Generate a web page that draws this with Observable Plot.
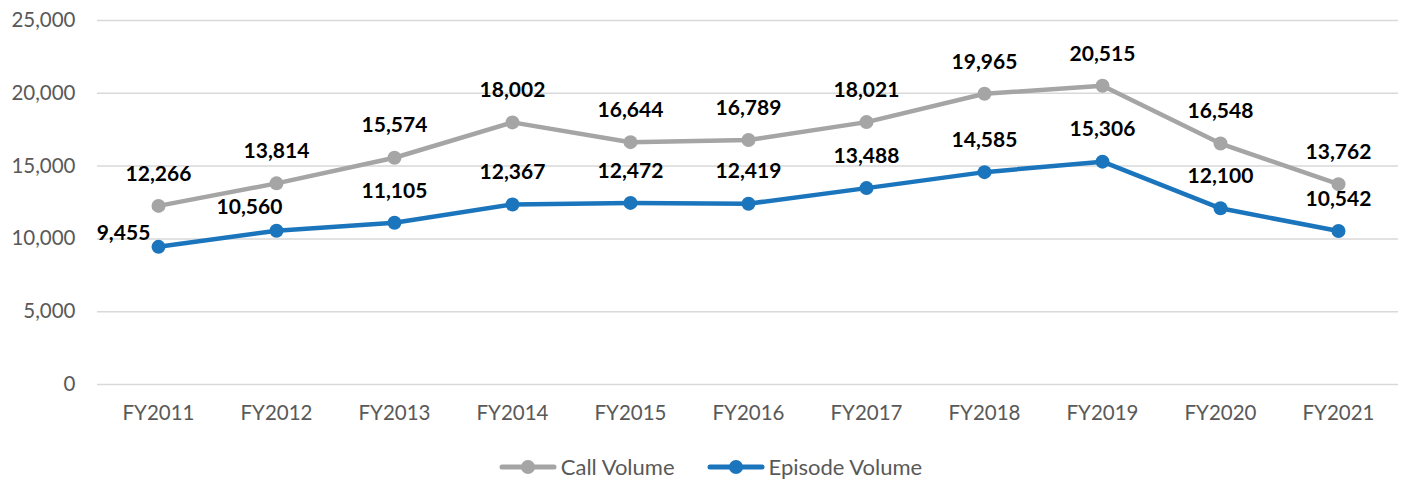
<!DOCTYPE html>
<html><head><meta charset="utf-8">
<script src="https://cdn.jsdelivr.net/npm/d3@7"></script>
<script src="https://cdn.jsdelivr.net/npm/@observablehq/plot@0.6"></script>
<style>
body{margin:0;background:#fff;font-family:Lato,"Open Sans",sans-serif;}
#legend{display:flex;justify-content:center;gap:32px;margin-top:13px;font-size:22px;color:#595959;padding-left:20px;}
.item{display:flex;align-items:center;gap:4px;}
</style></head>
<body><div id="chart"></div><div id="legend"></div>
<script>
const years = ["FY2011","FY2012","FY2013","FY2014","FY2015","FY2016","FY2017","FY2018","FY2019","FY2020","FY2021"];
const callVolume = [12266,13814,15574,18002,16644,16789,18021,19965,20515,16548,13762];
const episodeVolume = [9455,10560,11105,12367,12472,12419,13488,14585,15306,12100,10542];
const yTicks = [0,5000,10000,15000,20000,25000];
const seriesNames = ["Call Volume","Episode Volume"];
const colors = ["#A5A5A5","#1B75BC"];

const data = [];
years.forEach((y,i)=>{
  data.push({year:y, value:callVolume[i], series:seriesNames[0], i});
  data.push({year:y, value:episodeVolume[i], series:seriesNames[1], i});
});
const call = data.filter(d=>d.series===seriesNames[0]);
const ep = data.filter(d=>d.series===seriesNames[1]);
const fmt = d3.format(",");
const lbl = {fontWeight:"bold", fontSize:21, fill:"#000"};

const chart = Plot.plot({
  width:1401, height:440,
  marginLeft:97, marginRight:3, marginTop:20, marginBottom:56,
  style:{fontFamily:"Lato, 'Open Sans', sans-serif", fontSize:"20.5px", color:"#595959", background:"#fff"},
  x:{type:"point", domain:years, padding:0.5, label:null},
  y:{domain:[0,25000], label:null},
  color:{domain:seriesNames, range:colors},
  marks:[
    Plot.gridY(yTicks,{stroke:"#D9D9D9", strokeOpacity:1, strokeWidth:1.5}),
    Plot.axisX({tickSize:0, tickPadding:21, fontSize:20.5, fill:"#595959"}),
    Plot.axisY({ticks:yTicks, tickFormat:fmt, tickSize:0, tickPadding:22, fontSize:20.5, fill:"#595959"}),
    Plot.line(data,{x:"year", y:"value", stroke:"series", strokeWidth:4.5, z:"series"}),
    Plot.dot(data,{x:"year", y:"value", fill:"series", r:7}),
    Plot.text(call,{x:"year", y:"value", text:d=>fmt(d.value), dy:-32, ...lbl}),
    Plot.text(ep.filter(d=>d.i>=2),{x:"year", y:"value", text:d=>fmt(d.value), dy:-32, ...lbl}),
    Plot.text(ep.filter(d=>d.i===0),{x:"year", y:"value", text:d=>fmt(d.value), dx:-35, dy:-14, ...lbl}),
    Plot.text(ep.filter(d=>d.i===1),{x:"year", y:"value", text:d=>fmt(d.value), dx:-27, dy:-23, ...lbl})
  ]
});
document.getElementById("chart").appendChild(chart);

const legend = document.getElementById("legend");
seriesNames.forEach((n,k)=>{
  const it = document.createElement("div"); it.className="item";
  it.innerHTML = `<svg width="58" height="18"><line x1="3" y1="9" x2="55" y2="9" stroke="${colors[k]}" stroke-width="5" stroke-linecap="round"/><circle cx="29" cy="9" r="7" fill="${colors[k]}"/></svg><span>${n}</span>`;
  legend.appendChild(it);
});
</script></body></html>
